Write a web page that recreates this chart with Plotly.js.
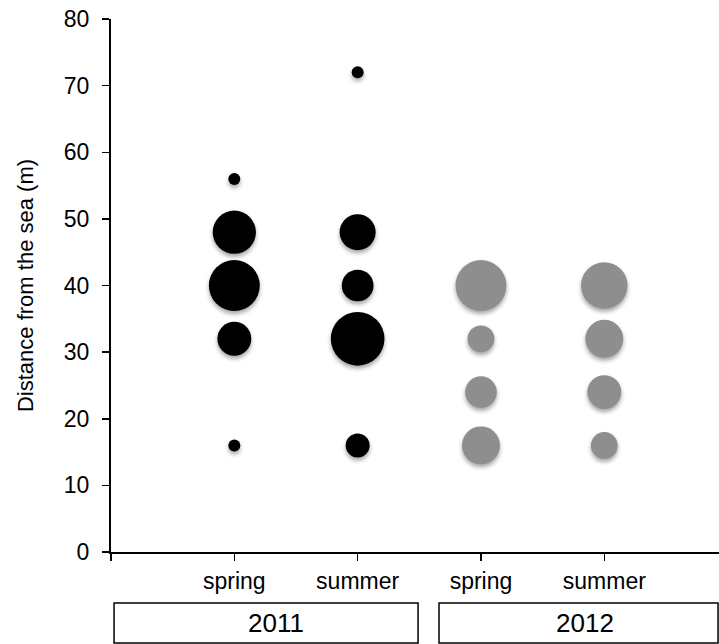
<!DOCTYPE html>
<html>
<head>
<meta charset="utf-8">
<script src="https://cdn.plot.ly/plotly-3.0.1.min.js"></script>
<style>
html, body { margin: 0; padding: 0; background: #fff; }
#chart { width: 719px; height: 644px; }
.scatterlayer .point { filter: drop-shadow(0px 3px 2px rgba(0,0,0,0.35)); }
</style>
</head>
<body>
<div id="chart"></div>
<script>
// ---- data ----
var seasons = ['spring', 'summer', 'spring', 'summer'];
var years = ['2011', '2012'];
var groupYear = ['2011', '2011', '2012', '2012'];

var distance2011Spring = [56, 48, 40, 32, 16];
var count2011Spring    = [1, 13, 18, 8, 1];
var distance2011Summer = [72, 48, 40, 32, 16];
var count2011Summer    = [1, 9, 7, 20, 4];
var distance2012Spring = [40, 32, 24, 16];
var count2012Spring    = [18, 5, 7, 10];
var distance2012Summer = [40, 32, 24, 16];
var count2012Summer    = [15, 10, 8, 5];

var yTickVals = [0, 10, 20, 30, 40, 50, 60, 70, 80];

// ---- build ----
var FONT = 'Liberation Sans, Arial, Helvetica, sans-serif';
var groups = [
  {d: distance2011Spring, c: count2011Spring, color: '#000000'},
  {d: distance2011Summer, c: count2011Summer, color: '#000000'},
  {d: distance2012Spring, c: count2012Spring, color: '#8e8e8e'},
  {d: distance2012Summer, c: count2012Summer, color: '#8e8e8e'}
];
var traces = groups.map(function (g, i) {
  return {
    type: 'scatter', mode: 'markers',
    x: g.d.map(function () { return i + 1; }),
    y: g.d,
    marker: {size: g.c, sizemode: 'area', sizeref: 1 / 72, color: g.color, line: {width: 0}, opacity: 1},
    hoverinfo: 'x+y', showlegend: false,
    cliponaxis: false
  };
});

var shapes = [], annotations = [];
var boxes = [[0.005, 0.505], [0.5395, 0.9984]];
var labelX = [0.2714, 0.7796];
years.forEach(function (yr, k) {
  shapes.push({type: 'rect', xref: 'paper', yref: 'paper',
    x0: boxes[k][0], x1: boxes[k][1], y0: -0.0957, y1: -0.1707,
    line: {color: '#000', width: 1.5}, fillcolor: 'rgba(0,0,0,0)'});
  annotations.push({xref: 'paper', yref: 'paper', x: labelX[k], y: -0.1332,
    text: yr, showarrow: false, xanchor: 'center', yanchor: 'middle',
    font: {family: FONT, size: 26, color: '#000'}});
});

var layout = {
  width: 719, height: 644,
  margin: {l: 111, r: 0, t: 19, b: 92, pad: 0},
  paper_bgcolor: '#fff', plot_bgcolor: '#fff',
  font: {family: FONT, color: '#000'},
  xaxis: {
    range: [0, 4.93], showgrid: false, zeroline: false,
    showline: true, linecolor: '#000', linewidth: 2,
    ticks: 'outside', ticklen: 7, tickwidth: 1.5, tickcolor: '#000',
    tickvals: [0].concat(seasons.map(function (s, i) { return i + 1; })),
    ticktext: [''].concat(seasons),
    tickfont: {family: FONT, size: 23, color: '#000'},
    fixedrange: true
  },
  yaxis: {
    range: [0, 80], showgrid: false, zeroline: false,
    showline: true, linecolor: '#000', linewidth: 2,
    ticks: 'outside', ticklen: 7, tickwidth: 1.5, tickcolor: '#000',
    tickvals: yTickVals,
    tickfont: {family: FONT, size: 23, color: '#000'},
    ticklabelstandoff: 8,
    title: {text: 'Distance from the sea (m)', font: {family: FONT, size: 22, color: '#000'}, standoff: 24},
    fixedrange: true
  },
  shapes: shapes,
  annotations: annotations
};

Plotly.newPlot('chart', traces, layout, {displayModeBar: false, staticPlot: true});
</script>
</body>
</html>
